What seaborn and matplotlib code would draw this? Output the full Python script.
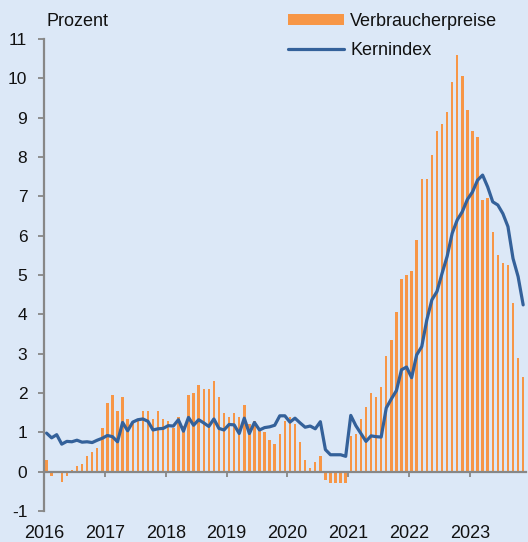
import numpy as np
import pandas as pd
import matplotlib
matplotlib.use("Agg")
import matplotlib.pyplot as plt
import seaborn as sns

years = ["2016", "2017", "2018", "2019", "2020", "2021", "2022", "2023"]

cpi_2016 = [0.3, -0.1, -0.03, -0.25, -0.1, 0.05, 0.15, 0.2, 0.4, 0.5, 0.6, 1.1]
cpi_2017 = [1.75, 1.95, 1.55, 1.9, 1.35, 1.3, 1.3, 1.55, 1.55, 1.35, 1.55, 1.35]
cpi_2018 = [1.3, 1.1, 1.4, 1.15, 1.95, 2.0, 2.2, 2.1, 2.1, 2.3, 1.9, 1.5]
cpi_2019 = [1.4, 1.5, 1.4, 1.7, 1.2, 1.3, 1.05, 1.0, 0.8, 0.7, 0.95, 1.3]
cpi_2020 = [1.4, 1.2, 0.75, 0.3, 0.1, 0.25, 0.4, -0.2, -0.3, -0.3, -0.3, -0.3]
cpi_2021 = [0.9, 0.95, 1.35, 1.65, 2.0, 1.9, 2.15, 2.95, 3.35, 4.05, 4.9, 5.0]
cpi_2022 = [5.1, 5.9, 7.45, 7.45, 8.05, 8.65, 8.85, 9.15, 9.9, 10.6, 10.05, 9.2]
cpi_2023 = [8.65, 8.5, 6.9, 6.95, 6.1, 5.5, 5.3, 5.25, 4.3, 2.9, 2.4]

core_2016 = [0.98, 0.86, 0.94, 0.70, 0.77, 0.76, 0.80, 0.75, 0.76, 0.74, 0.80, 0.85]
core_2017 = [0.92, 0.89, 0.76, 1.25, 1.04, 1.26, 1.32, 1.34, 1.28, 1.06, 1.09, 1.10]
core_2018 = [1.17, 1.16, 1.32, 1.03, 1.38, 1.18, 1.32, 1.24, 1.15, 1.34, 1.10, 1.06]
core_2019 = [1.20, 1.19, 0.97, 1.36, 0.97, 1.25, 1.06, 1.12, 1.14, 1.18, 1.42, 1.42]
core_2020 = [1.26, 1.36, 1.24, 1.13, 1.16, 1.09, 1.27, 0.56, 0.43, 0.43, 0.43, 0.39]
core_2021 = [1.43, 1.17, 0.97, 0.77, 0.91, 0.89, 0.88, 1.62, 1.85, 2.06, 2.59, 2.66]
core_2022 = [2.39, 2.97, 3.18, 3.86, 4.37, 4.58, 5.04, 5.47, 6.06, 6.40, 6.61, 6.92]
core_2023 = [7.11, 7.41, 7.54, 7.24, 6.86, 6.78, 6.56, 6.23, 5.42, 4.96, 4.24]

cpi = cpi_2016 + cpi_2017 + cpi_2018 + cpi_2019 + cpi_2020 + cpi_2021 + cpi_2022 + cpi_2023
core = core_2016 + core_2017 + core_2018 + core_2019 + core_2020 + core_2021 + core_2022 + core_2023

df = pd.DataFrame({"pos": np.arange(len(cpi)), "cpi": cpi, "core": core})

BG = "#dce8f7"
ORANGE = "#f79646"
BLUE = "#34619a"
GRAY = "#878787"

sns.set_theme(style="white")
plt.rcParams["font.family"] = ["Liberation Sans", "DejaVu Sans"]

fig = plt.figure(figsize=(5.28, 5.42), dpi=100, facecolor=BG)
ax = fig.add_axes([44 / 528, 31 / 542, (525.7 - 44) / 528, 472 / 542])
ax.set_facecolor(BG)

sns.barplot(data=df, x="pos", y="cpi", native_scale=True, width=0.48,
            color=ORANGE, saturation=1, linewidth=0, edgecolor=ORANGE,
            ax=ax, label="Verbraucherpreise")
sns.lineplot(data=df, x="pos", y="core", color=BLUE, linewidth=2.3, ax=ax,
             label="Kernindex")

ax.set_xlim(-0.5, len(cpi) - 0.5)
ax.set_ylim(-1, 11)
ax.set_yticks(range(-1, 12))
ax.set_yticklabels([str(v) for v in range(-1, 12)])
ax.set_xticks([12 * k - 0.5 for k in range(len(years))])
ax.set_xticklabels(years)
ax.set_xlabel("")
ax.set_ylabel("")

for s in ["top", "right"]:
    ax.spines[s].set_visible(False)
ax.spines["bottom"].set_position(("data", 0))
ax.spines["bottom"].set_color(GRAY)
ax.spines["bottom"].set_linewidth(1.6)
ax.spines["left"].set_color(GRAY)
ax.spines["left"].set_linewidth(1.6)
ax.tick_params(axis="y", direction="out", length=4, width=1.3, color=GRAY,
               labelsize=12.5, pad=8, labelcolor="#111111", left=True)
ax.tick_params(axis="x", direction="out", length=3.5, width=1.3, color=GRAY,
               labelsize=13, pad=35, labelcolor="#111111", bottom=True)

fig.text(46 / 528, 1 - 21 / 542, "Prozent", fontsize=13, color="#111111",
         ha="left", va="center")

h, l = ax.get_legend_handles_labels()
order = [l.index("Verbraucherpreise"), l.index("Kernindex")]
leg = ax.legend([h[i] for i in order], [l[i] for i in order], loc="upper left",
                bbox_to_anchor=(288 / 528, 1 - 13 / 542),
                bbox_transform=fig.transFigure, frameon=False, fontsize=13,
                handlelength=3.1, handleheight=0.55, handletextpad=0.35,
                labelspacing=0.68, borderpad=0, borderaxespad=0)
for t in leg.get_texts():
    t.set_color("#111111")

fig.savefig("out.png", dpi=100, facecolor=BG)
